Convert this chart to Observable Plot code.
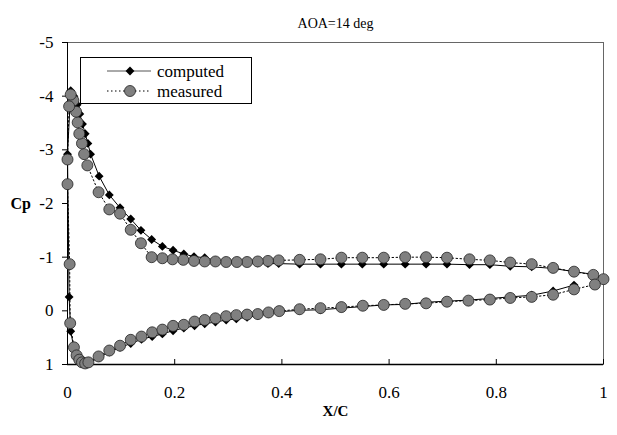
<!DOCTYPE html>
<html><head><meta charset="utf-8">
<script src="https://cdn.jsdelivr.net/npm/d3@7"></script>
<script src="https://cdn.jsdelivr.net/npm/@observablehq/plot@0.6"></script>
<style>
body{margin:0;background:#fff;}
#wrap{position:relative;width:617px;height:435px;font-family:"Liberation Serif","Times New Roman",serif;}
#legend{position:absolute;left:80px;top:57px;}
</style></head><body><div id="wrap"></div>
<script>
const title = "AOA=14 deg";
const xLabel = "X/C";
const yLabel = "Cp";
const seriesNames = ["computed", "measured"];
const xTicks = [0, 0.2, 0.4, 0.6, 0.8, 1];
const yTicks = [-5, -4, -3, -2, -1, 0, 1];

// measured: upper surface TE -> LE, then lower surface LE -> TE
const measuredX = [1.0,0.981,0.945,0.906,0.866,0.826,0.788,0.750,0.708,0.669,0.630,0.590,0.550,0.511,0.472,0.433,0.394,0.374,0.355,0.335,0.316,0.296,0.276,0.256,0.236,0.216,0.196,0.177,0.157,0.137,0.118,0.098,0.078,0.058,0.037,0.031,0.027,0.022,0.019,0.016,0.011,0.006,0.003,0.0,0.0,
  0.004,0.005,0.012,0.017,0.022,0.027,0.033,0.039,0.058,0.078,0.098,0.118,0.138,0.158,0.177,0.197,0.217,0.237,0.256,0.276,0.296,0.315,0.335,0.355,0.375,0.395,0.433,0.472,0.511,0.551,0.590,0.630,0.669,0.708,0.748,0.788,0.826,0.866,0.906,0.945,0.984];
const measuredCp = [-0.59,-0.67,-0.73,-0.80,-0.87,-0.90,-0.94,-0.96,-0.99,-1.00,-1.00,-0.99,-0.99,-0.99,-0.96,-0.95,-0.94,-0.93,-0.92,-0.91,-0.91,-0.91,-0.92,-0.92,-0.93,-0.95,-0.96,-0.98,-1.00,-1.26,-1.51,-1.81,-1.89,-2.21,-2.71,-2.92,-3.12,-3.30,-3.51,-3.71,-3.92,-4.03,-3.81,-2.82,-2.36,
  -0.87,0.23,0.68,0.83,0.91,0.96,0.98,0.96,0.85,0.74,0.65,0.54,0.48,0.40,0.35,0.28,0.26,0.20,0.17,0.14,0.10,0.08,0.07,0.06,0.03,0.005,-0.03,-0.05,-0.07,-0.095,-0.11,-0.13,-0.14,-0.17,-0.19,-0.21,-0.24,-0.26,-0.30,-0.40,-0.49];

// computed: upper surface TE -> LE, then lower surface LE -> TE
const computedX = [1.0,0.981,0.945,0.906,0.866,0.826,0.788,0.750,0.708,0.669,0.630,0.590,0.550,0.511,0.472,0.433,0.394,0.374,0.355,0.335,0.316,0.296,0.276,0.256,0.236,0.217,0.197,0.177,0.157,0.137,0.118,0.098,0.078,0.059,0.043,0.038,0.033,0.028,0.023,0.018,0.012,0.006,0.0,
  0.003,0.006,0.012,0.018,0.025,0.033,0.040,0.059,0.078,0.098,0.118,0.138,0.158,0.177,0.197,0.217,0.237,0.256,0.276,0.296,0.315,0.335,0.355,0.375,0.395,0.433,0.472,0.511,0.551,0.590,0.630,0.669,0.708,0.748,0.788,0.826,0.866,0.906,0.945,0.984];
const computedCp = [-0.58,-0.68,-0.73,-0.79,-0.82,-0.83,-0.86,-0.86,-0.87,-0.87,-0.87,-0.87,-0.87,-0.87,-0.87,-0.87,-0.88,-0.88,-0.89,-0.90,-0.91,-0.92,-0.94,-0.99,-1.01,-1.06,-1.13,-1.20,-1.33,-1.50,-1.71,-1.92,-2.16,-2.51,-2.92,-3.12,-3.30,-3.48,-3.67,-3.84,-4.00,-4.10,-2.92,
  -0.26,0.38,0.70,0.86,0.95,0.98,0.97,0.87,0.77,0.68,0.61,0.53,0.48,0.43,0.37,0.32,0.28,0.24,0.21,0.17,0.15,0.12,0.09,0.054,0.017,-0.01,-0.02,-0.05,-0.08,-0.11,-0.12,-0.16,-0.18,-0.20,-0.23,-0.26,-0.29,-0.37,-0.48];

const measured = measuredX.map((x, i) => ({x, y: measuredCp[i]}));
const computed = computedX.map((x, i) => ({x, y: computedCp[i]}));
const measuredLoop = measured.concat([measured[0]]);
const computedLoop = computed.concat([computed[0]]);

const serif = '"Liberation Serif","Times New Roman",serif';
const plot = Plot.plot({
  width: 617, height: 435,
  marginLeft: 67, marginRight: 14, marginTop: 42, marginBottom: 71,
  style: {fontFamily: serif, fontSize: "17px", color: "#000", background: "#fff"},
  x: {domain: [0, 1]},
  y: {domain: [1, -5]},
  marks: [
    Plot.frame({stroke: "#666"}),
    Plot.axisY(yTicks, {tickSize: 5, tickPadding: 9, tickFormat: d => String(d), label: null, fontSize: 17}),
    Plot.axisX(xTicks, {tickSize: 0, tickPadding: 21, tickFormat: d => String(d), label: null, fontSize: 17}),
    Plot.ruleX(xTicks, {x: d => d, y1: 1, y2: 1, insetBottom: 5, stroke: "#000"}),
    Plot.ruleX([0], {stroke: "#000"}),
    Plot.ruleY([1], {stroke: "#000", strokeWidth: 1.5}),
    Plot.line(computedLoop, {x: "x", y: "y", stroke: "#000", strokeWidth: 1}),
    Plot.dot(computed, {x: "x", y: "y", symbol: "diamond2", r: 4, fill: "#000", stroke: "none"}),
    Plot.line(measuredLoop, {x: "x", y: "y", stroke: "#000", strokeWidth: 1, strokeDasharray: "1.5,2.5"}),
    Plot.dot(measured, {x: "x", y: "y", r: 5.5, fill: "#808080", stroke: "#222", strokeWidth: 0.8}),
    Plot.text([title], {frameAnchor: "top", dy: -24, fontSize: 14}),
    Plot.text([yLabel], {frameAnchor: "left", dx: -57, textAnchor: "start", fontWeight: "bold", fontSize: 16}),
    Plot.text([xLabel], {frameAnchor: "bottom", dy: 51, fontWeight: "bold", fontSize: 15})
  ]
});
const wrap = document.getElementById("wrap");
wrap.appendChild(plot);

// legend overlay inside the plot area
const lg = d3.select(wrap).append("svg").attr("id", "legend").attr("width", 172).attr("height", 47);
lg.append("rect").attr("x", 0.5).attr("y", 0.5).attr("width", 171).attr("height", 46).attr("fill", "#fff").attr("stroke", "#000");
const rows = [
  {name: seriesNames[0], y: 14, dash: null},
  {name: seriesNames[1], y: 34, dash: "1.5,2.5"}
];
rows.forEach((r, i) => {
  lg.append("line").attr("x1", 27).attr("x2", 71).attr("y1", r.y).attr("y2", r.y)
    .attr("stroke", i === 0 ? "#555" : "#000").attr("stroke-dasharray", r.dash);
  if (i === 0) {
    lg.append("path").attr("d", d3.symbol(d3.symbolDiamond2, Math.PI * 16)()).attr("transform", `translate(50,${r.y})`).attr("fill", "#000");
  } else {
    lg.append("circle").attr("cx", 50).attr("cy", r.y).attr("r", 5.5).attr("fill", "#808080").attr("stroke", "#222").attr("stroke-width", 0.8);
  }
  lg.append("text").attr("x", 77).attr("y", r.y).attr("dy", "0.35em").attr("font-family", serif).attr("font-size", 17).text(r.name);
});
</script>
</body></html>
